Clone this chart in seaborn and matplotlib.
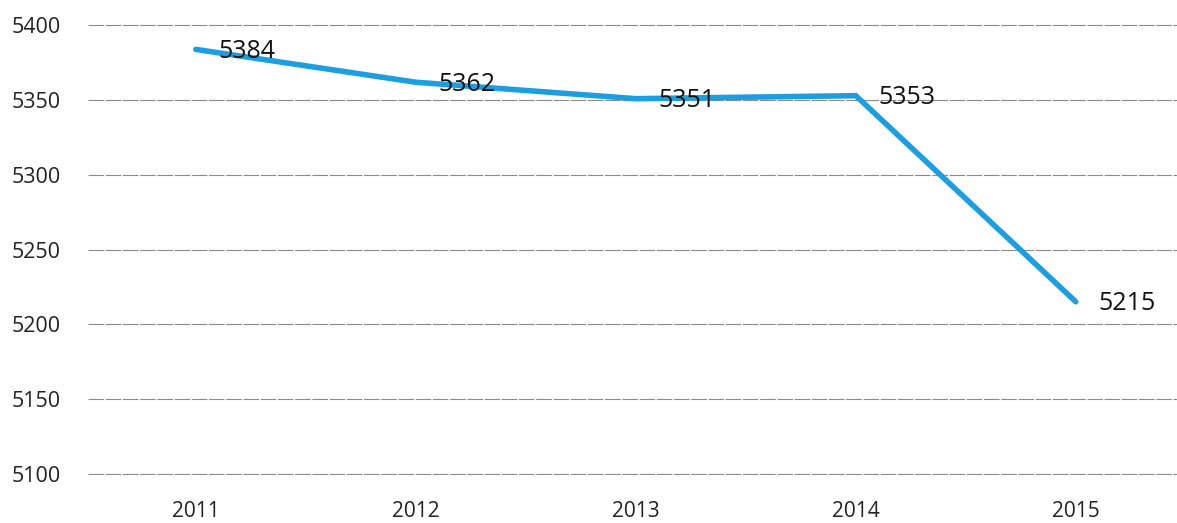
import matplotlib
matplotlib.use("Agg")
import matplotlib.pyplot as plt
import seaborn as sns
import pandas as pd

years = ["2011", "2012", "2013", "2014", "2015"]
values = [5384, 5362, 5351, 5353, 5215]
y_ticks = [5100, 5150, 5200, 5250, 5300, 5350, 5400]

sns.set_theme(style="white")
plt.rcParams["font.family"] = ["Open Sans", "DejaVu Sans"]

df = pd.DataFrame({"pos": list(range(len(years))), "value": values})

fig = plt.figure(figsize=(11.77, 5.23), dpi=100)
ax = fig.add_axes([88 / 1177, (523 - 475) / 523, 1 - 88 / 1177, (475 - 24) / 523])

sns.lineplot(data=df, x="pos", y="value", ax=ax, color="#1c9ee0", linewidth=4.0,
             solid_capstyle="round", solid_joinstyle="miter", zorder=3)

for p, v in zip(df["pos"], df["value"]):
    ax.annotate(str(v), xy=(p, v), xytext=(16, -1.5), textcoords="offset points",
                ha="left", va="center", fontsize=18, color="#111111", zorder=4)

ax.set_xlim(-0.49, 4.46)
ax.set_ylim(5099, 5401)
ax.set_yticks(y_ticks)
ax.set_yticklabels([str(t) for t in y_ticks])
ax.set_xticks(range(len(years)))
ax.set_xticklabels(years)
ax.set_xlabel("")
ax.set_ylabel("")

for s in ax.spines.values():
    s.set_visible(False)

ax.grid(axis="y", color="#8a8a8a", linewidth=0.8, linestyle=(0, (14, 1.5)))
ax.grid(axis="x", visible=False)
ax.set_axisbelow(True)

ax.tick_params(axis="x", length=0, pad=19, labelsize=15, labelcolor="#222222")
ax.tick_params(axis="y", length=0, pad=55, labelsize=15.5, labelcolor="#222222")
for lbl in ax.get_yticklabels():
    lbl.set_horizontalalignment("left")

fig.savefig("out.png", dpi=100, facecolor="white")
